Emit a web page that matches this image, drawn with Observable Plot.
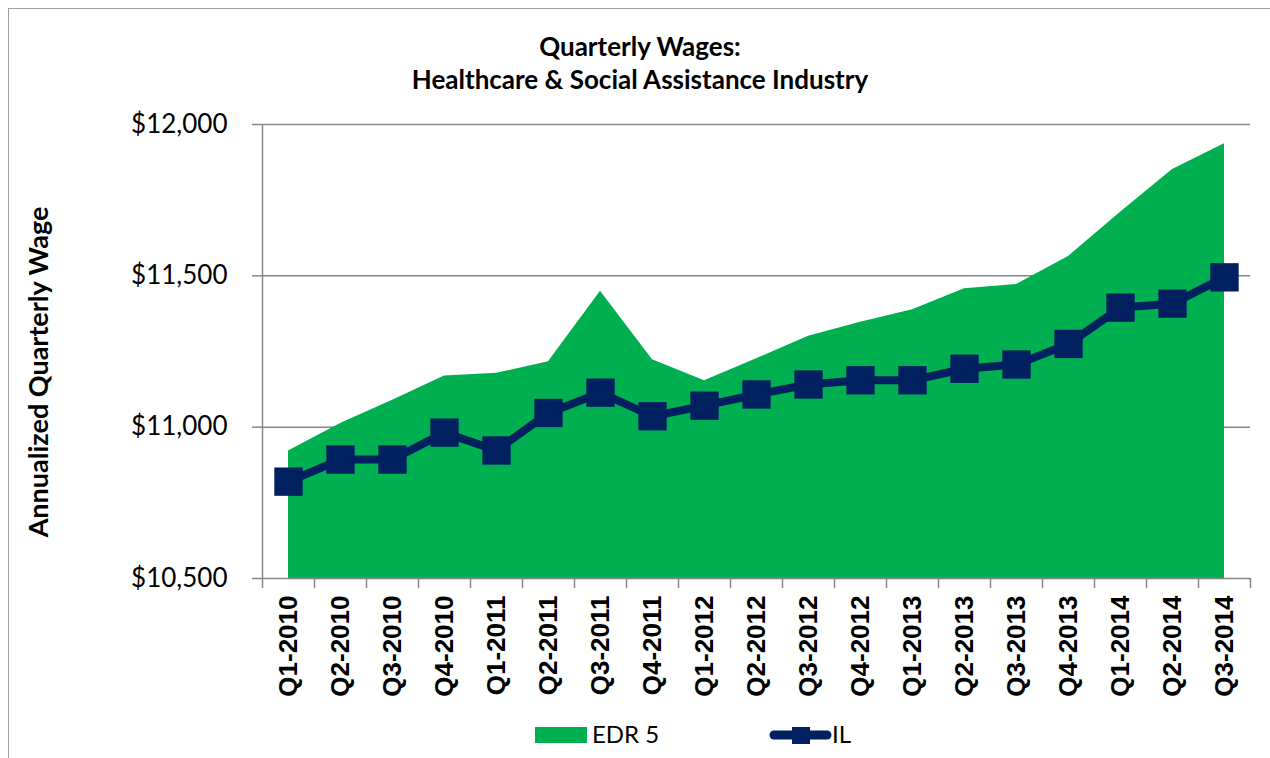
<!DOCTYPE html>
<html>
<head>
<meta charset="utf-8">
<script src="https://cdn.jsdelivr.net/npm/d3@7"></script>
<script src="https://cdn.jsdelivr.net/npm/@observablehq/plot@0.6"></script>
<style>
  html, body { margin: 0; padding: 0; background: #fff; overflow: hidden; }
  #wrap { position: relative; width: 1270px; height: 758px; font-family: Lato, "Open Sans", sans-serif; color: #000; }
  #frame { position: absolute; left: 8px; top: 8px; width: 1280px; height: 780px; border: 1.3px solid #a0a0a0; box-sizing: border-box; }
  #title { position: absolute; left: 0; width: 1280px; top: 30px; text-align: center; font-weight: bold; font-size: 26px; line-height: 33px; }
  #ylabel { position: absolute; left: 38px; top: 372px; transform: translate(-50%, -50%) rotate(-90deg); white-space: nowrap; font-weight: bold; font-size: 27px; line-height: 30px; }
  #chart { position: absolute; left: 0; top: 0; }
  #legend { position: absolute; left: 0; top: 0; }
</style>
</head>
<body>
<div id="wrap">
  <div id="frame"></div>
  <div id="chart"></div>
  <div id="title">Quarterly Wages:<br>Healthcare &amp; Social Assistance Industry</div>
  <div id="ylabel">Annualized Quarterly Wage</div>
  <div id="legend"></div>
</div>
<script>
const categories = ["Q1-2010","Q2-2010","Q3-2010","Q4-2010","Q1-2011","Q2-2011","Q3-2011","Q4-2011","Q1-2012","Q2-2012","Q3-2012","Q4-2012","Q1-2013","Q2-2013","Q3-2013","Q4-2013","Q1-2014","Q2-2014","Q3-2014"];
const edr5 = [10921, 11012, 11089, 11169, 11178, 11216, 11449, 11223, 11153, 11226, 11300, 11347, 11388, 11457, 11471, 11564, 11710, 11851, 11936];
const il   = [10820, 10893, 10893, 10982, 10923, 11047, 11114, 11036, 11071, 11108, 11141, 11155, 11155, 11193, 11207, 11275, 11395, 11408, 11495];
const yTicks = [10500, 11000, 11500, 12000];
const seriesNames = ["EDR 5", "IL"];
const colors = {"EDR 5": "#00B050", "IL": "#002060"};

const rows = categories.map((c, i) => ({i, cat: c, edr: edr5[i], il: il[i]}));
const boundaries = d3.range(categories.length + 1).map(i => i - 0.5);
const gridColor = "#868686";

const chart = Plot.plot({
  width: 1270,
  height: 758,
  marginLeft: 262,
  marginRight: 20,
  marginTop: 124,
  marginBottom: 180,
  style: {fontFamily: "Lato, 'Open Sans', sans-serif", color: "#000", background: "transparent"},
  x: {type: "linear", domain: [-0.5, categories.length - 0.5]},
  y: {domain: [yTicks[0], yTicks[yTicks.length - 1]]},
  marks: [
    Plot.ruleY(yTicks.slice(1), {stroke: gridColor, strokeWidth: 1.5}),
    Plot.areaY(rows, {x: "i", y1: yTicks[0], y2: "edr", fill: colors["EDR 5"]}),
    Plot.lineY(rows, {x: "i", y: "il", stroke: colors["IL"], strokeWidth: 8, strokeLinejoin: "round"}),
    Plot.dot(rows, {x: "i", y: "il", symbol: "square", r: 16, fill: colors["IL"]}),
    Plot.ruleX([-0.5], {stroke: gridColor, strokeWidth: 1.5}),
    Plot.ruleY([yTicks[0]], {stroke: gridColor, strokeWidth: 1.5}),
    Plot.axisY({ticks: yTicks, tickFormat: d => "$" + d3.format(",")(d), tickSize: 10, tickPadding: 25, fontSize: 26, label: null, stroke: gridColor, strokeWidth: 1.5}),
    Plot.axisX({ticks: boundaries, tickFormat: () => "", tickSize: 10, label: null, stroke: gridColor, strokeWidth: 1.5}),
    Plot.axisX({ticks: d3.range(categories.length), tickFormat: i => categories[i], tickSize: 0, tickRotate: -90, tickPadding: 17, fontSize: 26, fontWeight: "bold", fontFamily: "'Liberation Sans', Arial, sans-serif", label: null})
  ]
});
document.getElementById("chart").appendChild(chart);

// Legend
const leg = d3.select("#legend").append("svg").attr("width", 1270).attr("height", 758)
  .style("font-family", "Lato, 'Open Sans', sans-serif");
leg.append("rect").attr("x", 535).attr("y", 727).attr("width", 52).attr("height", 16).attr("fill", colors["EDR 5"]);
leg.append("text").attr("x", 592).attr("y", 735).attr("dy", "0.35em").attr("font-size", 24).text(seriesNames[0]);
leg.append("line").attr("x1", 774).attr("x2", 827).attr("y1", 735).attr("y2", 735)
  .attr("stroke", colors["IL"]).attr("stroke-width", 9).attr("stroke-linecap", "round");
leg.append("rect").attr("x", 792).attr("y", 727).attr("width", 18).attr("height", 17).attr("fill", colors["IL"]);
leg.append("text").attr("x", 832).attr("y", 735).attr("dy", "0.35em").attr("font-size", 24).text(seriesNames[1]);
</script>
</body>
</html>
